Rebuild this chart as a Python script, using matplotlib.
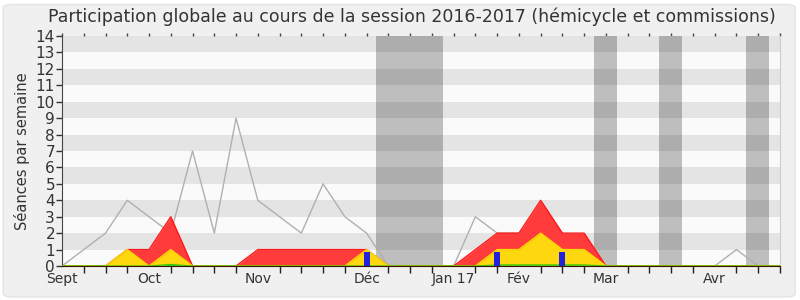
import numpy as np
import matplotlib
matplotlib.use("Agg")
from matplotlib import pyplot as plt
from matplotlib.patches import FancyBboxPatch

# semaines 0..33 de la session
weeks = np.arange(34)
seances = [0, 1, 2, 4, 3, 2, 7, 2, 9, 4, 3, 2, 5, 3, 2, 0, 0, 0,
           0, 3, 2, 2, 3, 2, 1, 0, 0, 0, 0, 0, 0, 1, 0, 0]
commission = [0, 0, 0, 1, 1, 3, 0, 0, 0, 1, 1, 1, 1, 1, 1, 0, 0, 0,
              0, 1, 2, 2, 4, 2, 2, 0, 0, 0, 0, 0, 0, 0, 0, 0]
hemicycle = [0, 0, 0, 1, 0, 1, 0, 0, 0, 0, 0, 0, 0, 0, 1, 0, 0, 0,
             0, 0, 1, 1, 2, 1, 1, 0, 0, 0, 0, 0, 0, 0, 0, 0]
questions = [0, 0, 0, 0, 0, 0.1, 0, 0, 0, 0, 0, 0, 0, 0, 0, 0, 0, 0,
             0, 0, 0.07, 0.07, 0.07, 0.07, 0.07, 0, 0, 0, 0, 0, 0, 0, 0, 0]
interv_weeks = [14, 20, 23]
interv_vals = [0.85, 0.85, 0.85]
vacances = [(14.45, 17.5), (24.45, 25.5), (27.45, 28.5), (31.45, 32.5)]
month_pos = [0, 4, 9, 14, 18, 21, 25, 30]
month_labels = ['Sept', 'Oct', 'Nov', 'Déc', 'Jan 17', 'Fév', 'Mar', 'Avr']

fig = plt.figure(figsize=(8, 3), dpi=100)
fig.patch.set_facecolor('#ffffff')
fig.patches.append(FancyBboxPatch((0.004, 0.01), 0.99, 0.975, boxstyle="round,pad=0,rounding_size=0.012",
                                  transform=fig.transFigure, facecolor='#f0f0f0',
                                  edgecolor='#e4e4e4', lw=1, zorder=-5))

ax = fig.add_axes([0.0775, 0.1133, 0.8975, 0.7667])
ax.set_facecolor('#fafafa')
ax.set_xlim(0, 33)
ax.set_ylim(0, 14)

# bandes horizontales
for y in range(1, 14, 2):
    ax.axhspan(y, y + 1, color='black', alpha=0.085, lw=0, zorder=1)
# vacances
for a, b in vacances:
    ax.axvspan(a, b, color='#bebebe', lw=0, zorder=0.5)

ax.plot(weeks, seances, color='#b0b0b0', lw=1, zorder=2)
ax.fill_between(weeks, commission, color='#ff3b3b', lw=0, zorder=3)
ax.plot(weeks, commission, color='#ff1a1a', lw=1, zorder=3.1)
ax.fill_between(weeks, hemicycle, color='#ffd70f', lw=0, zorder=4)
ax.plot(weeks, hemicycle, color='#f5dd00', lw=1, zorder=4.1)
ax.fill_between(weeks, questions, color='#22cc22', lw=0, zorder=5)
ax.plot(weeks, questions, color='#33cc00', lw=0.8, zorder=5.1)
ax.bar(interv_weeks, interv_vals, width=0.27, color='#2222dd', zorder=6)

ax.set_yticks(range(0, 15))
ax.set_xticks(month_pos)
ax.set_xticklabels(month_labels)
ax.set_xticks(weeks, minor=True)
ax.tick_params(axis='x', which='major', length=0, pad=4, labelsize=10, colors='#333333')
ax.tick_params(axis='x', which='minor', length=5, width=1, color='#222222')
ax.tick_params(axis='y', length=4, width=1, pad=1, labelsize=11, colors='#333333')

# petites graduations en haut
top = ax.secondary_xaxis('top')
top.set_xticks(weeks)
top.set_xticklabels([])
top.tick_params(length=2.5, width=1, color='#444444')
top.spines['top'].set_visible(False)

ax.spines['top'].set_visible(False)
ax.spines['right'].set_color('#cccccc')
ax.spines['left'].set_color('#444444')
ax.spines['bottom'].set_color('#3a1200')
ax.spines['bottom'].set_zorder(7)

ax.set_ylabel('Séances par semaine', fontsize=10.5, color='#333333', labelpad=4)
fig.suptitle('Participation globale au cours de la session 2016-2017 (hémicycle et commissions)',
             fontsize=12.5, color='#333333', x=0.515, y=0.975)

fig.savefig('out.png', dpi=100, facecolor=fig.get_facecolor())
